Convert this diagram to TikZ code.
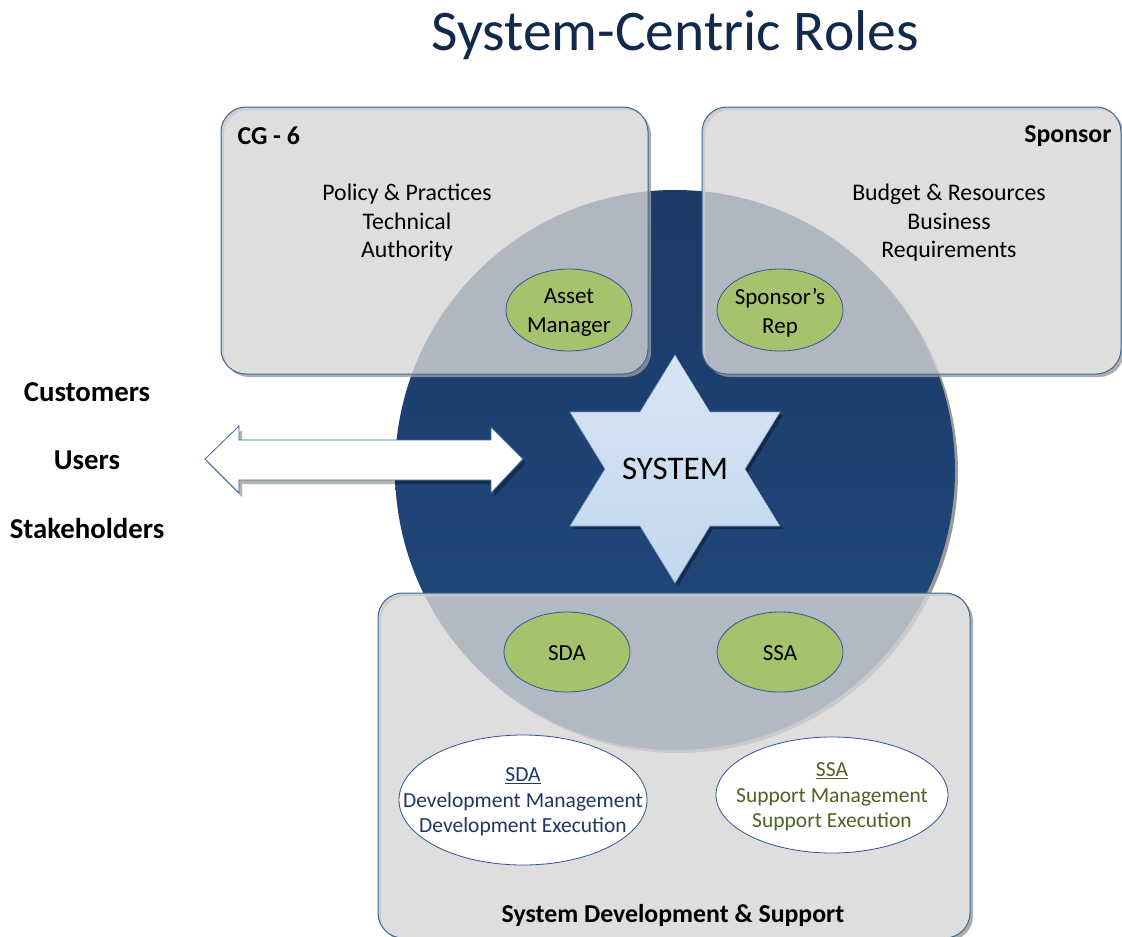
\documentclass[tikz,border=0pt]{standalone}
\usepackage{fontspec}
\setmainfont{Carlito}
\usetikzlibrary{shapes.geometric}
\definecolor{titlenavy}{HTML}{12294C}
\definecolor{circtop}{HTML}{1B3A66}
\definecolor{circbot}{HTML}{224A80}
\definecolor{boxgray}{HTML}{D6D6D6}
\definecolor{boxline}{HTML}{3A6699}
\definecolor{shadowgray}{HTML}{9A9A9A}
\definecolor{rolegreen}{HTML}{A5C26C}
\definecolor{roleline}{HTML}{2F5597}
\definecolor{startop}{HTML}{D8E5F4}
\definecolor{starbot}{HTML}{C4D7EE}
\definecolor{starline}{HTML}{7F9CC6}
\definecolor{sdanavy}{HTML}{1F3864}
\definecolor{ssaolive}{HTML}{4F6228}
\tikzset{
  boxshape/.style={rounded corners=25pt, fill=boxgray, fill opacity=0.8, draw=boxline, draw opacity=1, line width=1pt},
  boxshadow/.style={fill=shadowgray, fill opacity=0.8, even odd rule, rounded corners=25pt},
  roleshape/.style={fill=rolegreen, draw=roleline, line width=0.8pt},
  role/.style={align=center, font=\fontsize{23}{29}\selectfont},
  dutyshape/.style={fill=white, draw=roleline, line width=0.8pt},
  duty/.style={align=center, font=\fontsize{21.5}{25.5}\selectfont},
  bodytext/.style={align=center, font=\fontsize{23.8}{28.5}\selectfont},
  headtext/.style={font=\bfseries\fontsize{25.8}{28}\selectfont},
  sidetext/.style={font=\bfseries\fontsize{28.8}{30}\selectfont}
}
\begin{document}
\begin{tikzpicture}[x=1pt,y=-1pt]
\useasboundingbox (0,0) rectangle (1122,937);
\fill[white] (0,0) rectangle (1122,937);

% title
\node[font=\fontsize{57.5}{62}\selectfont, text=titlenavy] (title) at (675,35) {System-Centric Roles};

% central circle
\fill[shadowgray] (678,473) circle (280pt);
\shade[top color=circtop, bottom color=circbot] (675,470) circle (280pt);

% boxes (shadows then translucent boxes)
\fill[boxshadow] (224,110) rectangle (651,377) (221,107) rectangle (648,374);
\draw[boxshape] (221,107) rectangle (648,374);
\fill[boxshadow] (705,110) rectangle (1124,377) (702,107) rectangle (1121,374);
\draw[boxshape] (702,107) rectangle (1121,374);
\fill[boxshadow] (381,596) rectangle (973,941) (378,593) rectangle (970,938);
\draw[boxshape] (378,593) rectangle (970,938);

% box texts
\node[headtext, anchor=west] (cg6) at (234,136) {CG - 6};
\node[bodytext] (cgtext) at (407,223) {Policy \& Practices\\Technical\\Authority};
\node[headtext, anchor=east] (sponsor) at (1115,136) {Sponsor};
\node[bodytext] (sptext) at (949,223) {Budget \& Resources\\Business\\Requirements};
\node[headtext] (sds) at (673,915) {System Development \& Support};

% role ellipses
\draw[roleshape] (569,310) ellipse [x radius=63pt, y radius=41pt];
\node[role] (asset) at (569,313) {Asset\\Manager};
\draw[roleshape] (780,310) ellipse [x radius=63pt, y radius=41pt];
\node[role] (srep) at (780,313) {Sponsor’s\\Rep};
\draw[roleshape] (567,652) ellipse [x radius=63pt, y radius=40pt];
\node[role] (sda) at (567,653) {SDA};
\draw[roleshape] (780,652) ellipse [x radius=63pt, y radius=40pt];
\node[role] (ssa) at (780,653) {SSA};

% star
\fill[black, opacity=0.35] (678,358) -- (713,415) -- (783,415) -- (748,472) -- (783,529) -- (713,529) -- (678,586) -- (643,529) -- (573,529) -- (608,472) -- (573,415) -- (643,415) -- cycle;
\shade[top color=startop, bottom color=starbot, draw=starline, line width=0.6pt]
  (675,355) -- (710,412) -- (780,412) -- (745,469) -- (780,526) -- (710,526) -- (675,583) -- (640,526) -- (570,526) -- (605,469) -- (570,412) -- (640,412) -- cycle;
\node[font=\fontsize{33}{36}\selectfont] (system) at (675,469) {SYSTEM};

% double arrow
\fill[black, opacity=0.3] (208,463) -- (242,430) -- (242,444) -- (494,444) -- (494,431) -- (526,463) -- (494,497) -- (494,484) -- (242,484) -- (242,497) -- cycle;
\filldraw[fill=white, draw=boxline, line width=0.8pt] (205,459) -- (239,426) -- (239,440) -- (491,440) -- (491,427) -- (523,459) -- (491,493) -- (491,480) -- (239,480) -- (239,493) -- cycle;

% left labels
\node[sidetext] (customers) at (87,392) {Customers};
\node[sidetext] (users) at (87,460) {Users};
\node[sidetext] (stake) at (87,528) {Stakeholders};

% duty ellipses
\draw[dutyshape] (523,800) ellipse [x radius=124pt, y radius=65pt];
\node[duty, text=sdanavy] (sdaduty) at (523,802) {\underline{SDA}\\Development Management\\Development Execution};
\draw[dutyshape] (832,795) ellipse [x radius=116pt, y radius=58pt];
\node[duty, text=ssaolive] (ssaduty) at (832,797) {\underline{SSA}\\Support Management\\Support Execution};
\end{tikzpicture}
\end{document}
